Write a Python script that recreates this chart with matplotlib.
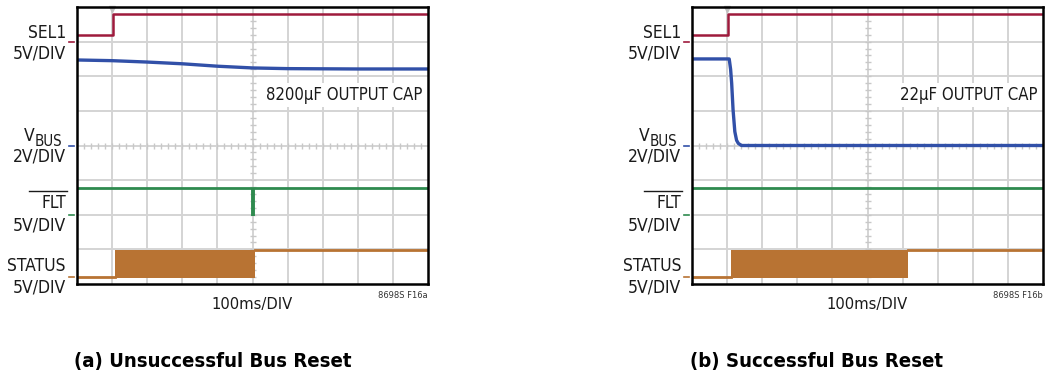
import matplotlib
matplotlib.use("Agg")
import matplotlib.pyplot as plt
from matplotlib.lines import Line2D

W, H = 1046, 379
FONT = "DejaVu Sans"
STRETCH = "condensed"

# signal levels in scope divisions (0..8 vertical, 0..10 horizontal)
sel1_t = [0, 1.03, 1.03, 10]
sel1_v = [7.2, 7.2, 7.79, 7.79]

vbus_a_t = [0, 1.0, 2.0, 3.0, 4.0, 5.0, 6.0, 8.0, 10.0]
vbus_a_v = [6.47, 6.45, 6.41, 6.36, 6.29, 6.24, 6.22, 6.21, 6.21]

vbus_b_t = [0, 1.06, 1.10, 1.13, 1.17, 1.22, 1.27, 1.32, 1.41, 1.6, 10.0]
vbus_b_v = [6.5, 6.5, 6.2, 5.8, 5.03, 4.4, 4.15, 4.06, 4.0, 4.0, 4.0]

flt_level = 2.76
flt_a_pulse = (5.02, 1.97)   # time, bottom of the fault glitch

status_low, status_high = 0.2, 0.98
status_a_burst = (1.08, 5.07)
status_b_burst = (1.10, 6.15)

ground_marks = [7.0, 4.0, 2.0, 0.2]
caps = ["8200µF OUTPUT CAP", "22µF OUTPUT CAP"]
fig_ids = ["8698S F16a", "8698S F16b"]
captions = ["(a) Unsuccessful Bus Reset", "(b) Successful Bus Reset"]

RED = "#9e1a3c"
BLUE = "#3150a8"
GREEN = "#2e8a4e"
ORANGE = "#b87333"
GRID = "#d4d4d4"
INK = "#1a1a1a"


def fx(x):
    return x / W


def fy(y):
    return 1 - y / H


def scope(fig, x0, vbus_t, vbus_v, burst, pulse, cap, fid, caption, cap_x):
    ax = fig.add_axes([fx(x0), fy(284), 351 / W, 277 / H])
    ax.set_xlim(0, 10)
    ax.set_ylim(0, 8)
    ax.set_xticks([])
    ax.set_yticks([])
    for s in ax.spines.values():
        s.set_linewidth(1.8)
        s.set_color("black")
        s.set_zorder(10)
    for i in range(1, 10):
        ax.axvline(i, color=GRID, lw=1.4, zorder=0)
    for j in range(1, 8):
        ax.axhline(j, color=GRID, lw=1.4, zorder=0)
    # minor ticks on the centre cross
    mx = [k * 0.2 for k in range(1, 50)]
    ax.plot(mx, [4] * len(mx), "|", color="#c8c8c8", ms=5, mew=1.0, zorder=1)
    my = [k * 0.2 for k in range(1, 40)]
    ax.plot([5] * len(my), my, "_", color="#c8c8c8", ms=5, mew=1.0, zorder=1)
    # trigger marker
    ax.plot([1.0], [7.93], "v", color="#c0c0c0", ms=5, zorder=2, clip_on=False)

    # channel ground markers outside the frame
    for g, c in zip(ground_marks, [RED, BLUE, GREEN, ORANGE]):
        ax.plot([-0.22, -0.08], [g, g], color=c, lw=1.2, clip_on=False)

    ax.plot(sel1_t, sel1_v, color=RED, lw=1.8, zorder=3)
    ax.plot(vbus_t, vbus_v, color=BLUE, lw=2.4, zorder=3)
    ax.plot([0, 10], [flt_level, flt_level], color=GREEN, lw=2.0, zorder=3)
    if pulse is not None:
        ax.plot([pulse[0], pulse[0]], [flt_level, pulse[1]], color=GREEN, lw=2.8,
                solid_capstyle="butt", zorder=4)
    ax.plot([0, burst[0]], [status_low, status_low], color=ORANGE, lw=2.0, zorder=3)
    ax.fill_between([burst[0], burst[1]], status_low - 0.04, status_high,
                    color=ORANGE, lw=0, zorder=3)
    ax.plot([burst[1], 10], [status_high, status_high], color=ORANGE, lw=2.0, zorder=3)

    ax.text(9.85, 5.45, cap, ha="right", va="center", fontsize=12, family=FONT,
            stretch=STRETCH, color=INK, zorder=5,
            bbox=dict(facecolor="white", edgecolor="none", pad=2))

    # channel labels
    xr = x0 - 11
    kw = dict(ha="right", va="center", family=FONT, stretch=STRETCH, color=INK)
    fig.text(fx(xr), fy(33), "SEL1", fontsize=12.5, **kw)
    fig.text(fx(xr), fy(53), "5V/DIV", fontsize=12.5, **kw)
    fig.text(fx(xr - 31), fy(136), "V", fontsize=12.5, **kw)
    fig.text(fx(xr - 4), fy(142), "BUS", fontsize=10.8, **kw)
    fig.text(fx(xr), fy(157), "2V/DIV", fontsize=12.5, **kw)
    fig.text(fx(xr), fy(203), "FLT", fontsize=12.5, **kw)
    fig.add_artist(Line2D([fx(x0 - 48), fx(xr + 1)], [fy(191), fy(191)],
                          color=INK, lw=1.0))
    fig.text(fx(xr), fy(226), "5V/DIV", fontsize=12.5, **kw)
    fig.text(fx(xr), fy(266), "STATUS", fontsize=12.5, **kw)
    fig.text(fx(xr), fy(288), "5V/DIV", fontsize=12.5, **kw)

    fig.text(fx(x0 + 351), fy(295), fid, ha="right", va="center",
             fontsize=6.7, family=FONT, stretch=STRETCH, color="#333333")
    fig.text(fx(x0 + 175), fy(305), "100ms/DIV", ha="center", va="center",
             fontsize=11.8, family=FONT, stretch=STRETCH, color=INK)
    fig.text(fx(cap_x), fy(362), caption, ha="center", va="center",
             fontsize=14.6, weight="bold", family=FONT, stretch=STRETCH, color="black")


fig = plt.figure(figsize=(W / 100, H / 100), dpi=100)
scope(fig, 77, vbus_a_t, vbus_a_v, status_a_burst, flt_a_pulse,
      caps[0], fig_ids[0], captions[0], 213)
scope(fig, 692, vbus_b_t, vbus_b_v, status_b_burst, None,
      caps[1], fig_ids[1], captions[1], 817)
fig.savefig("out.png", dpi=100)
